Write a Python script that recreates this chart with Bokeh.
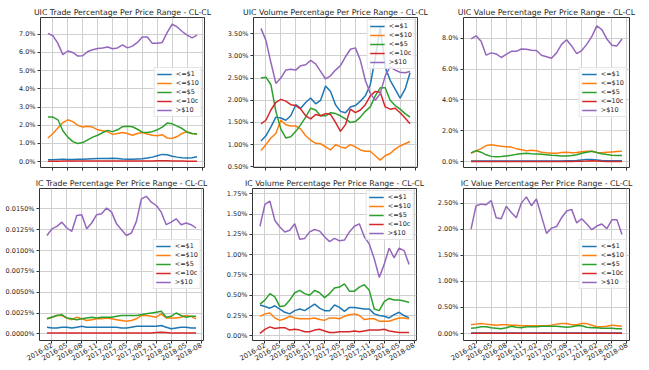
import math
from bokeh.plotting import figure
from bokeh.layouts import column, row
from bokeh.models import Range1d, FixedTicker, PrintfTickFormatter
from bokeh.embed import file_html
from bokeh.resources import INLINE

months = ["2016-01", "2016-02", "2016-03", "2016-04", "2016-05", "2016-06", "2016-07", "2016-08",
          "2016-09", "2016-10", "2016-11", "2016-12", "2017-01", "2017-02", "2017-03", "2017-04",
          "2017-05", "2017-06", "2017-07", "2017-08", "2017-09", "2017-10", "2017-11", "2017-12",
          "2018-01", "2018-02", "2018-03", "2018-04", "2018-05", "2018-06", "2018-07"]
x_tick_labels = ["2016-02", "2016-05", "2016-08", "2016-11", "2017-02", "2017-05",
                 "2017-08", "2017-11", "2018-02", "2018-05", "2018-08"]
series_names = ["<=$1", "<=$10", "<=$5", "<=10c", ">$10"]
series_colors = ["#1f77b4", "#ff7f0e", "#2ca02c", "#d62728", "#9467bd"]

# UIC Trade (%)
uic_trade_le1 = [0.10, 0.10, 0.12, 0.14, 0.12, 0.12, 0.14, 0.14, 0.15, 0.16, 0.17, 0.18, 0.18, 0.19, 0.17, 0.15,
                 0.14, 0.14, 0.15, 0.16, 0.20, 0.25, 0.33, 0.40, 0.38, 0.30, 0.25, 0.22, 0.20, 0.22, 0.27]
uic_trade_le10 = [1.30, 1.55, 1.85, 2.15, 2.30, 2.20, 2.00, 1.90, 1.95, 1.90, 1.75, 1.70, 1.65, 1.50, 1.55, 1.60,
                  1.55, 1.45, 1.55, 1.60, 1.52, 1.45, 1.42, 1.48, 1.30, 1.28, 1.38, 1.55, 1.65, 1.55, 1.52]
uic_trade_le5 = [2.45, 2.45, 2.30, 1.70, 1.35, 1.10, 1.00, 1.05, 1.20, 1.35, 1.45, 1.60, 1.72, 1.65, 1.75, 1.92,
                 1.95, 1.92, 1.78, 1.62, 1.60, 1.65, 1.75, 1.90, 2.12, 2.08, 1.95, 1.82, 1.62, 1.55, 1.52]
uic_trade_le10c = [0.03, 0.03, 0.03, 0.04, 0.04, 0.04, 0.04, 0.04, 0.04, 0.04, 0.04, 0.04, 0.04, 0.04, 0.04, 0.04,
                   0.04, 0.04, 0.04, 0.04, 0.04, 0.04, 0.05, 0.05, 0.05, 0.04, 0.04, 0.04, 0.03, 0.03, 0.03]
uic_trade_gt10 = [7.05, 6.92, 6.50, 5.88, 6.08, 6.00, 5.80, 5.82, 6.05, 6.15, 6.22, 6.25, 6.30, 6.20, 6.25, 6.42,
                  6.25, 6.35, 6.55, 6.85, 6.85, 6.50, 6.50, 6.55, 7.10, 7.55, 7.40, 7.15, 6.95, 6.80, 6.95]

# UIC Volume (%)
uic_vol_le1 = [1.08, 1.20, 1.40, 1.62, 1.60, 1.55, 1.65, 1.90, 1.82, 1.95, 2.05, 1.92, 2.00, 2.32, 2.20, 1.90,
               1.75, 1.72, 1.85, 1.88, 1.98, 2.10, 2.35, 2.95, 3.65, 2.75, 2.45, 2.25, 2.05, 2.25, 2.62]
uic_vol_le10 = [0.87, 1.00, 1.15, 1.25, 1.55, 1.45, 1.42, 1.42, 1.35, 1.20, 1.10, 1.03, 1.02, 0.95, 0.88, 1.00,
                0.95, 0.92, 1.00, 0.95, 0.88, 0.85, 0.85, 0.75, 0.65, 0.75, 0.80, 0.90, 0.97, 1.02, 1.07]
uic_vol_le5 = [2.50, 2.52, 2.35, 1.75, 1.35, 1.15, 1.18, 1.30, 1.45, 1.62, 1.82, 1.78, 1.65, 1.65, 1.72, 1.70,
               1.65, 1.58, 1.50, 1.52, 1.62, 1.75, 1.85, 2.10, 2.28, 2.28, 2.00, 1.88, 1.80, 1.70, 1.62]
uic_vol_le10c = [1.47, 1.55, 1.78, 1.95, 2.02, 1.98, 1.90, 1.88, 1.80, 1.65, 1.58, 1.68, 1.65, 1.70, 1.68, 1.50,
                 1.30, 1.45, 1.80, 1.72, 1.78, 1.90, 2.10, 2.20, 2.18, 1.85, 1.80, 1.82, 1.72, 1.60, 1.47]
uic_vol_gt10 = [3.62, 3.35, 2.85, 2.38, 2.50, 2.68, 2.70, 2.68, 2.78, 2.80, 2.90, 2.82, 2.65, 2.48, 2.55, 2.68,
                2.78, 2.98, 3.15, 3.18, 2.90, 2.45, 2.15, 2.00, 2.15, 2.55, 2.75, 2.68, 2.63, 2.62, 2.65]

# UIC Value (%)
uic_val_le1 = [0.05, 0.05, 0.05, 0.05, 0.05, 0.05, 0.05, 0.05, 0.05, 0.05, 0.05, 0.05, 0.05, 0.05, 0.05, 0.05,
               0.05, 0.05, 0.05, 0.06, 0.07, 0.08, 0.12, 0.15, 0.15, 0.12, 0.09, 0.07, 0.06, 0.06, 0.06]
uic_val_le10 = [0.55, 0.70, 0.85, 1.05, 1.10, 1.05, 1.00, 0.98, 0.95, 0.85, 0.78, 0.72, 0.75, 0.72, 0.62, 0.58,
                0.56, 0.55, 0.60, 0.62, 0.58, 0.60, 0.65, 0.68, 0.68, 0.60, 0.58, 0.62, 0.64, 0.66, 0.68]
uic_val_le5 = [0.58, 0.72, 0.62, 0.45, 0.35, 0.32, 0.34, 0.38, 0.42, 0.48, 0.52, 0.55, 0.52, 0.50, 0.48, 0.45,
               0.42, 0.40, 0.38, 0.38, 0.40, 0.45, 0.55, 0.62, 0.68, 0.60, 0.52, 0.47, 0.43, 0.41, 0.40]
uic_val_le10c = [0.02, 0.02, 0.02, 0.02, 0.02, 0.02, 0.02, 0.02, 0.02, 0.02, 0.02, 0.02, 0.02, 0.02, 0.02, 0.02,
                 0.02, 0.02, 0.02, 0.02, 0.02, 0.03, 0.04, 0.05, 0.07, 0.05, 0.03, 0.02, 0.02, 0.02, 0.02]
uic_val_gt10 = [7.95, 8.15, 7.80, 6.90, 7.05, 6.98, 6.75, 6.95, 7.15, 7.15, 7.30, 7.28, 7.22, 7.20, 6.90, 6.80,
                6.70, 7.05, 7.60, 7.90, 7.50, 7.00, 7.20, 7.60, 8.10, 8.80, 8.55, 7.95, 7.55, 7.50, 7.95]

# IC Trade (%)
ic_trade_le1 = [0.0008, 0.0007, 0.0007, 0.0008, 0.0008, 0.0007, 0.0008, 0.0009, 0.0008, 0.0008, 0.0008,
                0.0008, 0.0008, 0.0008, 0.0008, 0.0007, 0.0007, 0.0008, 0.0009, 0.0009, 0.0009, 0.0009,
                0.0009, 0.0010, 0.0008, 0.0006, 0.0007, 0.0008, 0.0008, 0.0007, 0.0007]
ic_trade_le10 = [0.0018, 0.0020, 0.0022, 0.0022, 0.0019, 0.0017, 0.0020, 0.0018, 0.0016, 0.0017, 0.0018,
                 0.0018, 0.0019, 0.0018, 0.0017, 0.0016, 0.0015, 0.0016, 0.0018, 0.0022, 0.0022, 0.0021,
                 0.0020, 0.0024, 0.0019, 0.0019, 0.0019, 0.0020, 0.0022, 0.0021, 0.0018]
ic_trade_le5 = [0.0018, 0.0020, 0.0022, 0.0023, 0.0019, 0.0018, 0.0017, 0.0018, 0.0019, 0.0020, 0.0019,
                0.0020, 0.0020, 0.0020, 0.0021, 0.0022, 0.0022, 0.0022, 0.0022, 0.0023, 0.0024, 0.0025,
                0.0026, 0.0027, 0.0020, 0.0021, 0.0025, 0.0022, 0.0020, 0.0021, 0.0021]
ic_trade_le10c = [0.0001, 0.0001, 0.0001, 0.0001, 0.0001, 0.0001, 0.0001, 0.0001, 0.0001, 0.0001, 0.0001,
                  0.0001, 0.0001, 0.0001, 0.0001, 0.0001, 0.0001, 0.0001, 0.0001, 0.0001, 0.0001, 0.0001,
                  0.00015, 0.0002, 0.00015, 0.0001, 0.0001, 0.0001, 0.0001, 0.0001, 0.0001]
ic_trade_gt10 = [0.0118, 0.0126, 0.0129, 0.0134, 0.0127, 0.0123, 0.0142, 0.0143, 0.0126, 0.0133, 0.0143,
                 0.0144, 0.0151, 0.0146, 0.0132, 0.0125, 0.0118, 0.0121, 0.0135, 0.0162, 0.0165, 0.0158,
                 0.0154, 0.0146, 0.0131, 0.0134, 0.0138, 0.0131, 0.0133, 0.0131, 0.0127]

# IC Volume (%)
ic_vol_le1 = [0.38, 0.36, 0.34, 0.37, 0.33, 0.29, 0.27, 0.31, 0.33, 0.31, 0.35, 0.39, 0.34, 0.31, 0.31, 0.38,
              0.35, 0.30, 0.35, 0.35, 0.34, 0.33, 0.33, 0.27, 0.25, 0.24, 0.22, 0.26, 0.29, 0.25, 0.22]
ic_vol_le10 = [0.24, 0.27, 0.28, 0.22, 0.19, 0.21, 0.24, 0.22, 0.21, 0.21, 0.21, 0.22, 0.20, 0.19, 0.22, 0.22,
               0.21, 0.24, 0.26, 0.27, 0.25, 0.20, 0.21, 0.21, 0.18, 0.18, 0.18, 0.20, 0.22, 0.22, 0.21]
ic_vol_le5 = [0.39, 0.44, 0.52, 0.48, 0.36, 0.37, 0.44, 0.53, 0.56, 0.52, 0.50, 0.56, 0.53, 0.47, 0.52, 0.59,
              0.60, 0.64, 0.55, 0.55, 0.60, 0.63, 0.56, 0.33, 0.31, 0.42, 0.46, 0.44, 0.44, 0.43, 0.41]
ic_vol_le10c = [0.03, 0.08, 0.11, 0.09, 0.10, 0.10, 0.07, 0.08, 0.07, 0.05, 0.05, 0.07, 0.08, 0.06, 0.04, 0.04,
                0.05, 0.05, 0.05, 0.06, 0.05, 0.06, 0.07, 0.07, 0.07, 0.08, 0.06, 0.05, 0.04, 0.04, 0.04]
ic_vol_gt10 = [1.35, 1.62, 1.66, 1.42, 1.34, 1.28, 1.30, 1.38, 1.19, 1.20, 1.28, 1.31, 1.29, 1.22, 1.16, 1.20,
               1.17, 1.18, 1.28, 1.35, 1.38, 1.22, 1.13, 0.95, 0.72, 0.88, 1.08, 0.96, 1.08, 1.05, 0.88]

# IC Value (%)
ic_val_le1 = [0.01, 0.01, 0.01, 0.01, 0.01, 0.01, 0.01, 0.01, 0.01, 0.01, 0.01, 0.01, 0.01, 0.01, 0.01, 0.01,
              0.01, 0.01, 0.01, 0.01, 0.01, 0.01, 0.01, 0.01, 0.01, 0.01, 0.01, 0.01, 0.01, 0.01, 0.01]
ic_val_le10 = [0.17, 0.18, 0.19, 0.18, 0.17, 0.16, 0.17, 0.17, 0.16, 0.16, 0.15, 0.15, 0.15, 0.15, 0.15, 0.15,
               0.16, 0.18, 0.19, 0.19, 0.17, 0.17, 0.19, 0.19, 0.16, 0.13, 0.13, 0.14, 0.16, 0.15, 0.14]
ic_val_le5 = [0.10, 0.11, 0.13, 0.13, 0.11, 0.10, 0.09, 0.11, 0.14, 0.12, 0.11, 0.13, 0.13, 0.13, 0.14, 0.14,
              0.14, 0.14, 0.13, 0.12, 0.13, 0.15, 0.15, 0.12, 0.11, 0.11, 0.10, 0.10, 0.10, 0.09, 0.09]
ic_val_le10c = [0.005, 0.005, 0.005, 0.005, 0.005, 0.005, 0.005, 0.005, 0.005, 0.005, 0.005, 0.005, 0.005,
                0.005, 0.005, 0.005, 0.005, 0.005, 0.005, 0.005, 0.005, 0.005, 0.005, 0.005, 0.005, 0.005,
                0.005, 0.005, 0.005, 0.005, 0.005]
ic_val_gt10 = [2.00, 2.45, 2.48, 2.47, 2.55, 2.22, 2.20, 2.44, 2.32, 2.22, 2.50, 2.62, 2.45, 2.58, 2.25, 1.92,
               2.02, 2.05, 2.22, 2.35, 2.38, 2.12, 2.20, 2.10, 1.99, 2.06, 2.10, 2.01, 2.18, 2.18, 1.90]

# y-axis ticks
uic_trade_ticks = [0, 1, 2, 3, 4, 5, 6, 7]
uic_vol_ticks = [0.5, 1.0, 1.5, 2.0, 2.5, 3.0, 3.5]
uic_val_ticks = [0, 2, 4, 6, 8]
ic_trade_ticks = [0.0, 0.0025, 0.005, 0.0075, 0.01, 0.0125, 0.015]
ic_vol_ticks = [0.0, 0.25, 0.5, 0.75, 1.0, 1.25, 1.5, 1.75]
ic_val_ticks = [0.0, 0.5, 1.0, 1.5, 2.0, 2.5]


def month_index(label):
    yy, mm = label.split("-")
    return (int(yy) - 2016) * 12 + int(mm) - 1


x = [month_index(m) for m in months]
x_ticks = [month_index(t) for t in x_tick_labels]

FONT = "DejaVu Sans"
TXT = "#262626"


def make_panel(title, data, yr, y_ticks, y_fmt, legend_loc, show_x, width, height, bl, br, bt, bb):
    p = figure(width=width, height=height, output_backend="svg", toolbar_location=None,
               x_range=Range1d(-1.5, 31.5), y_range=Range1d(*yr),
               min_border_left=bl, min_border_right=br, min_border_top=bt, min_border_bottom=bb)
    p.title.text = title
    p.title.text_font = FONT
    p.title.text_font_size = "7.8px"
    p.title.text_font_style = "normal"
    p.title.text_color = TXT
    p.title.align = "center"
    p.title.standoff = 1
    p.title.offset = 0

    for name, color, vals in zip(series_names, series_colors, data):
        p.line(x, vals, line_color=color, line_width=1.5, legend_label=name)

    p.xaxis.ticker = FixedTicker(ticks=x_ticks)
    p.yaxis.ticker = FixedTicker(ticks=y_ticks)
    p.yaxis.formatter = PrintfTickFormatter(format=y_fmt)

    for ax in p.axis:
        ax.axis_line_color = None
        ax.major_tick_line_color = "#333333"
        ax.major_tick_out = 3
        ax.major_tick_in = 0
        ax.minor_tick_line_color = None
        ax.major_label_text_font = FONT
        ax.major_label_text_font_size = "6.5px"
        ax.major_label_text_color = TXT
        ax.major_label_standoff = 2

    if show_x:
        p.xaxis.major_label_overrides = {t: lab for t, lab in zip(x_ticks, x_tick_labels)}
        p.xaxis.major_label_orientation = math.pi / 6
        p.xaxis.major_label_standoff = 1
        p.xaxis.major_label_text_font_size = "6.8px"
    else:
        p.xaxis.major_label_overrides = {t: "" for t in x_ticks}
        p.xaxis.major_label_text_font_size = "0px"
        p.xaxis.major_label_standoff = 0

    p.grid.grid_line_color = "#cfcfcf"
    p.grid.grid_line_width = 1
    p.outline_line_color = "#333333"
    p.outline_line_width = 1
    p.background_fill_color = "white"
    p.border_fill_color = "white"

    lg = p.legend[0]
    lg.location = legend_loc
    lg.margin = 2
    lg.padding = 2
    lg.spacing = 1
    lg.glyph_height = 8
    lg.glyph_width = 15
    lg.label_height = 8
    lg.label_width = 18
    lg.label_standoff = 4
    lg.label_text_font = FONT
    lg.label_text_font_size = "6.5px"
    lg.label_text_color = TXT
    lg.border_line_color = "#cccccc"
    lg.background_fill_alpha = 0.8
    return p


TOP_H = 175
BOT_H = 194

p1 = make_panel("UIC Trade Percentage Per Price Range - CL-CL",
                [uic_trade_le1, uic_trade_le10, uic_trade_le5, uic_trade_le10c, uic_trade_gt10],
                (-0.32, 7.92), uic_trade_ticks, "%.1f%%", "center_right", False, 215, TOP_H, 40, 11, 17, 8)
p2 = make_panel("UIC Volume Percentage Per Price Range - CL-CL",
                [uic_vol_le1, uic_vol_le10, uic_vol_le5, uic_vol_le10c, uic_vol_gt10],
                (0.485, 3.865), uic_vol_ticks, "%.2f%%", "top_right", False, 215, TOP_H, 38, 13, 17, 7)
p3 = make_panel("UIC Value Percentage Per Price Range - CL-CL",
                [uic_val_le1, uic_val_le10, uic_val_le5, uic_val_le10c, uic_val_gt10],
                (-0.37, 9.34), uic_val_ticks, "%.1f%%", "center_right", False, 218, TOP_H, 33, 19, 17, 8)
p4 = make_panel("IC Trade Percentage Per Price Range - CL-CL",
                [ic_trade_le1, ic_trade_le10, ic_trade_le5, ic_trade_le10c, ic_trade_gt10],
                (-0.0008, 0.01744), ic_trade_ticks, "%.4f%%", "center_right", True, 215, BOT_H, 39, 12, 13, 29)
p5 = make_panel("IC Volume Percentage Per Price Range - CL-CL",
                [ic_vol_le1, ic_vol_le10, ic_vol_le5, ic_vol_le10c, ic_vol_gt10],
                (-0.058, 1.815), ic_vol_ticks, "%.2f%%", "top_right", True, 215, BOT_H, 37, 14, 13, 29)
p6 = make_panel("IC Value Percentage Per Price Range - CL-CL",
                [ic_val_le1, ic_val_le10, ic_val_le5, ic_val_le10c, ic_val_gt10],
                (-0.134, 2.78), ic_val_ticks, "%.2f%%", "center_right", True, 218, BOT_H, 33, 19, 13, 29)

layout = column(row(p1, p2, p3), row(p4, p5, p6))
open("out.html", "w").write(file_html(layout, INLINE))
